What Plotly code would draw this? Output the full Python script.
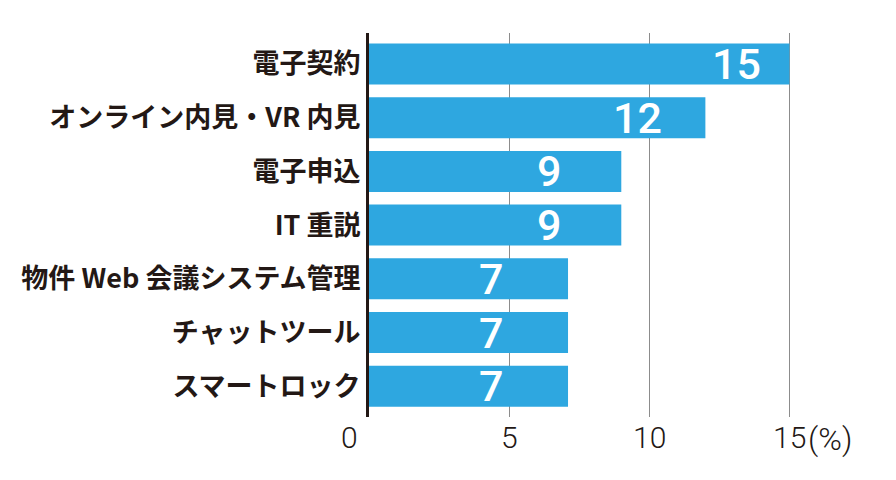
import plotly.graph_objects as go

categories = ["電子契約", "オンライン内見・VR 内見", "電子申込", "IT 重説",
              "物件 Web 会議システム管理", "チャットツール", "スマートロック"]
values = [15, 12, 9, 9, 7.1, 7.1, 7.1]
tick_vals = [0, 5, 10, 15]
tick_text = ["0", "5", "10", "15"]
unit_text = "(%)"

BAR = "#2ea7e0"
INK = "#231815"
GRID = "#8c8c8c"

fig = go.Figure()
fig.add_trace(go.Bar(
    x=values, y=categories, orientation="h",
    marker=dict(color=BAR, line=dict(width=0)),
    hoverinfo="skip",
))

# in-bar value labels (offset from bar end, in px)
label_shift = [-53, -68, -72, -72, -77, -77, -77]
for c, v, s in zip(categories, values, label_shift):
    fig.add_annotation(x=v, y=c, xref="x", yref="y", text=f"{v:.0f}",
                       showarrow=False, xanchor="center", yanchor="middle",
                       xshift=s, yshift=0,
                       font=dict(family="Roboto", size=43, color="white", weight=500))

# x tick labels
tick_shift = {0: -20}
for tv, tt in zip(tick_vals, tick_text):
    fig.add_annotation(x=tv, y=0, xref="x", yref="paper", text=tt,
                       showarrow=False, xanchor="center", yanchor="top",
                       xshift=tick_shift.get(tv, 0), yshift=-1,
                       font=dict(family="Roboto", size=30, color=INK, weight=300))
fig.add_annotation(x=tick_vals[-1], y=0, xref="x", yref="paper", text=unit_text,
                   showarrow=False, xanchor="left", yanchor="top",
                   xshift=17, yshift=-1,
                   font=dict(family="Roboto", size=32, color=INK, weight=300))

fig.update_layout(
    width=896, height=480,
    margin=dict(l=361, r=112, t=25, b=71),
    paper_bgcolor="white", plot_bgcolor="white",
    bargap=0.237,
    showlegend=False,
    xaxis=dict(range=[0, 15.09], showgrid=True, gridcolor=GRID, gridwidth=1,
               tickvals=tick_vals, showticklabels=False, ticks="",
               zeroline=False, showline=False, fixedrange=True),
    yaxis=dict(type="category", range=[6.573, -0.577], showgrid=False,
               showline=True, linecolor=INK, linewidth=3, ticks="",
               ticklabelstandoff=0,
               tickfont=dict(family="Noto Sans CJK JP", size=27, color=INK, weight=700),
               zeroline=False, fixedrange=True),
)

fig.write_html("out.html")
